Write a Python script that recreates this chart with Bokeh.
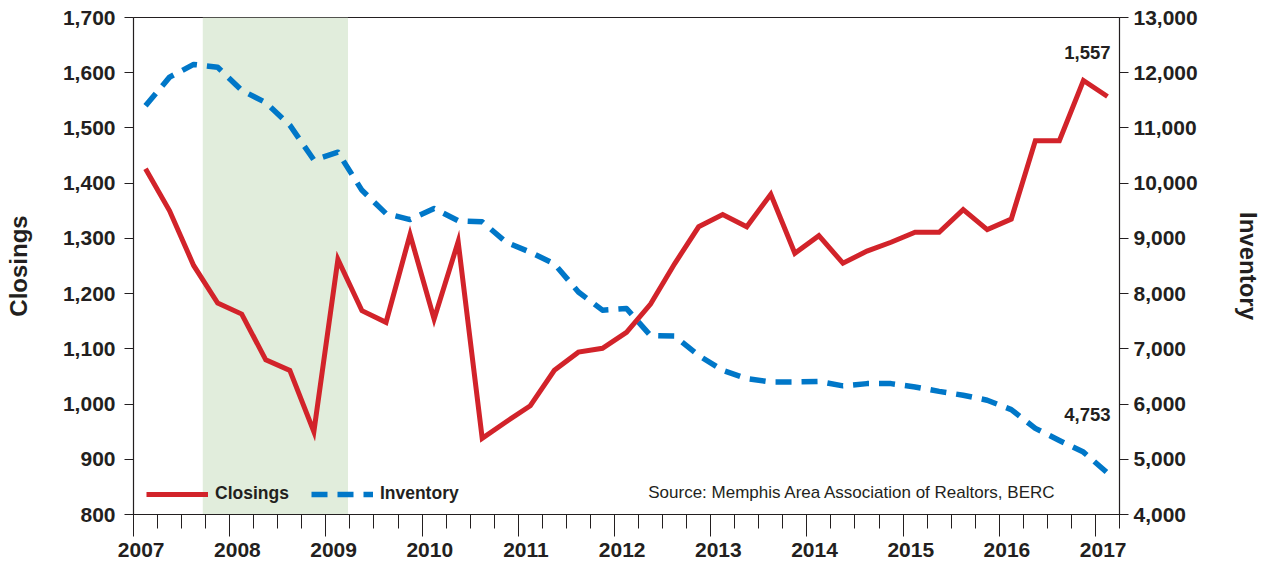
from bokeh.plotting import figure
from bokeh.models import (Range1d, LinearAxis, FixedTicker, NumeralTickFormatter,
                          BoxAnnotation, Legend, LegendItem, Label, CustomJSTickFormatter,
                          ColumnDataSource)
from bokeh.embed import file_html
from bokeh.resources import INLINE

# ---------------- data ----------------
years = list(range(2007, 2018))
year_labels = [str(y) for y in years]
closings = [1426, 1350, 1251, 1183, 1163, 1080, 1061, 950, 1262, 1169, 1148,
            1307, 1154, 1294, 938, 968, 997, 1061, 1094, 1101, 1130, 1181,
            1254, 1321, 1343, 1321, 1380, 1273, 1305, 1255, 1277, 1293, 1311,
            1311, 1352, 1316, 1335, 1477, 1477, 1586, 1557]
inventory = [11400, 11920, 12150, 12100, 11680, 11460, 11050, 10420, 10560,
             9870, 9450, 9340, 9540, 9320, 9300, 8930, 8750, 8540, 8030, 7700,
             7730, 7240, 7230, 6880, 6610, 6460, 6400, 6400, 6410, 6330, 6370,
             6370, 6310, 6230, 6160, 6070, 5900, 5560, 5340, 5130, 4753]
closings_ticks = list(range(800, 1701, 100))
inventory_ticks = list(range(4000, 13001, 1000))
recession_start, recession_end = 2007.72, 2009.23
source_text = "Source: Memphis Area Association of Realtors, BERC"

# quarterly positions (centre of each quarter)
xq = [2007 + (i + 0.5) / 4 for i in range(len(closings))]
quarter_ticks = [2007 + i / 4 for i in range(len(closings) + 1)]

RED = "#D2232A"
BLUE = "#0077C8"
GREEN = "#E1EDDC"
INK = "#231F20"
FONT = "Liberation Sans"

p = figure(frame_width=986, frame_height=497, output_backend="svg",
           toolbar_location=None, x_range=Range1d(2007, 2007 + len(closings) / 4),
           y_range=Range1d(800, 1700), min_border_left=133, min_border_right=150,
           min_border_top=17, min_border_bottom=40, x_axis_location=None,
           y_axis_location=None)
p.extra_y_ranges = {"inv": Range1d(4000, 13000)}
p.grid.visible = False
p.outline_line_color = INK
p.outline_line_width = 1
p.background_fill_color = "white"
p.border_fill_color = "white"

band = BoxAnnotation(left=recession_start, right=recession_end, fill_color=GREEN,
                     fill_alpha=1.0, line_color=None, level="underlay")
p.add_layout(band)

src = ColumnDataSource(dict(x=xq, c=closings, inv=inventory))
r_inv = p.line("x", "inv", source=src, y_range_name="inv", line_color=BLUE,
               line_width=5.5, line_dash="16 10", line_join="round")
r_clo = p.line("x", "c", source=src, line_color=RED, line_width=5,
               line_join="miter")

def style_axis(ax, size="21px"):
    ax.axis_line_color = INK
    ax.axis_line_width = 1.2
    ax.major_tick_line_color = INK
    ax.minor_tick_line_color = INK
    ax.major_label_text_font = FONT
    ax.major_label_text_font_style = "bold"
    ax.major_label_text_font_size = size
    ax.major_label_text_color = INK
    ax.axis_label_text_font = FONT
    ax.axis_label_text_font_style = "bold"
    ax.axis_label_text_font_size = "24px"
    ax.axis_label_text_color = INK

# left axis
yl = LinearAxis(ticker=FixedTicker(ticks=closings_ticks),
                formatter=NumeralTickFormatter(format="0,0"), axis_label="Closings")
style_axis(yl)
yl.major_tick_out = 9
yl.major_tick_in = 0
yl.minor_tick_out = 0
yl.major_label_standoff = 9
yl.axis_label_standoff = 28
p.add_layout(yl, "left")

# right axis
yr = LinearAxis(y_range_name="inv", ticker=FixedTicker(ticks=inventory_ticks),
                formatter=NumeralTickFormatter(format="0,0"), axis_label="Inventory")
style_axis(yr)
yr.major_tick_out = 9
yr.major_tick_in = 0
yr.minor_tick_out = 0
yr.major_label_standoff = 5
yr.axis_label_standoff = 34
p.add_layout(yr, "right")

# bottom axis: tick marks
xt = LinearAxis(ticker=FixedTicker(ticks=years, minor_ticks=quarter_ticks),
                formatter=CustomJSTickFormatter(code="return ''"))
style_axis(xt, size="0px")
xt.major_tick_out = 22
xt.major_tick_in = 0
xt.minor_tick_out = 14
xt.minor_tick_in = 0
xt.major_label_standoff = 0
p.add_layout(xt, "below")

# bottom axis: year labels (slightly right of the year ticks, as in the original)
label_shift = 0.08
xl = LinearAxis(ticker=FixedTicker(ticks=[y + label_shift for y in years]),
                formatter=CustomJSTickFormatter(args=dict(labels=year_labels, y0=years[0]),
                                                code="return labels[Math.round(tick - 0.08) - y0];"))
style_axis(xl)
xl.axis_line_color = None
xl.major_tick_line_color = None
xl.minor_tick_line_color = None
xl.major_tick_out = 0
xl.major_tick_in = 0
xl.minor_tick_out = 0
xl.major_label_standoff = 6
p.add_layout(xl, "below")

legend = Legend(items=[LegendItem(label="Closings", renderers=[r_clo]),
                       LegendItem(label="Inventory", renderers=[r_inv])],
                orientation="horizontal", location=(13, 10), glyph_width=62,
                glyph_height=20, label_standoff=7, spacing=22, padding=0, margin=0,
                border_line_color=None, background_fill_alpha=0,
                label_text_font=FONT, label_text_font_size="17.5px",
                label_text_font_style="bold", label_text_color=INK)
p.add_layout(legend)

p.add_layout(Label(x=xq[-1], y=closings[-1], text=f"{closings[-1]:,}", x_offset=-20,
                   y_offset=44, text_align="center", text_baseline="middle",
                   text_font=FONT, text_font_style="bold", text_font_size="18.5px",
                   text_color=INK))
p.add_layout(Label(x=xq[-1], y=inventory[-1], y_range_name="inv",
                   text=f"{inventory[-1]:,}", x_offset=-20, y_offset=58,
                   text_align="center", text_baseline="middle", text_font=FONT,
                   text_font_style="bold", text_font_size="18.5px", text_color=INK))
p.add_layout(Label(x=2016.594, y=840, text=source_text, text_align="right",
                   text_baseline="middle", text_font=FONT, text_font_size="17px",
                   text_color=INK))

open("out.html", "w").write(file_html(p, INLINE))
